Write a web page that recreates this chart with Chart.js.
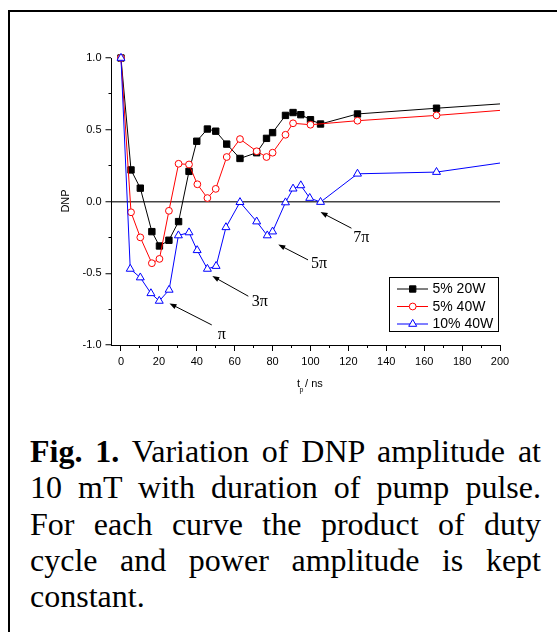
<!DOCTYPE html>
<html><head><meta charset="utf-8">
<script src="https://cdn.jsdelivr.net/npm/chart.js@4"></script>
<style>
html,body{margin:0;padding:0;background:#fff;width:557px;height:632px;overflow:hidden}
#frame{position:absolute;left:8px;top:10px;width:700px;height:800px;border-left:2px solid #000;border-top:2px solid #000;}
#wrap{position:absolute;left:0;top:0;width:557px;height:400px}
#cap{position:absolute;left:30px;top:433px;width:511px;font-family:"Liberation Serif","Times New Roman",serif;font-size:32px;line-height:36.3px;text-align:justify;color:#000}
</style></head><body>
<div id="frame"></div>
<div id="wrap"><canvas id="c" width="557" height="400"></canvas></div>
<div id="cap"><b>Fig. 1.</b> Variation of DNP amplitude at 10 mT with duration of pump pulse. For each curve the product of duty cycle and power amplitude is kept constant.</div>
<script>
// ---- data ----
const seriesLabels = ['5% 20W', '5% 40W', '10% 40W'];
const tpA  = [0,5.3,10.2,16.3,20.3,25.3,30.4,35.9,40,45.6,50,55.8,62.8,71.6,76.8,80,86.8,90.8,94.9,100,105.3,124.8,166.5,200];
const dnpA = [1.0,0.22,0.093,-0.21,-0.31,-0.27,-0.14,0.21,0.42,0.505,0.49,0.40,0.30,0.34,0.44,0.48,0.60,0.62,0.605,0.57,0.54,0.61,0.65,0.68];
const tpB  = [0,5.3,10.2,16.3,20.3,25.3,30.4,35.9,40.3,45.6,50,55.8,62.8,71.6,76.8,80,86.8,90.8,100,124.8,166.5,200];
const dnpB = [1.0,-0.075,-0.25,-0.43,-0.40,-0.065,0.263,0.258,0.12,0.024,0.088,0.31,0.435,0.35,0.31,0.34,0.465,0.545,0.535,0.563,0.60,0.635];
const tpC  = [0,4.9,10.2,15.8,20.2,25.4,30.3,35.9,40.2,45.6,50.2,55.4,62.8,71.6,77.2,80,86.8,90.8,94.9,99.6,105.3,124.8,166.5,200];
const dnpC = [1.0,-0.47,-0.53,-0.64,-0.693,-0.616,-0.237,-0.216,-0.34,-0.47,-0.45,-0.18,-0.005,-0.14,-0.237,-0.21,-0.007,0.089,0.112,0.024,-0.004,0.193,0.205,0.268];
const xMajorTicks = [0,20,40,60,80,100,120,140,160,180,200];
const xMinorTicks = [10,30,50,70,90,110,130,150,170,190];
const yMajorTicks = [-1,-0.5,0,0.5,1];
const yMinorTicks = [-0.75,-0.25,0.25,0.75];
// annotations: label text, label position, arrow tail and tip (data units)
const noteText  = ['π','3π','5π','7π'];
const noteX     = [53.2, 73.2, 104.5, 126.8];
const noteY     = [-0.93, -0.70, -0.435, -0.25];
const tailX     = [47.9, 67.2, 98.7, 121.6];
const tailY     = [-0.86, -0.66, -0.407, -0.186];
const tipX      = [25.6, 48.2, 83, 105.3];
const tipY      = [-0.71, -0.52, -0.30, -0.074];

const sans = 'Arial, "Liberation Sans", sans-serif';
const serif = '"Liberation Serif", "Times New Roman", serif';

function pts(xs, ys){ return xs.map((x,i)=>({x:x, y:ys[i]})); }
function radii(xs, r){ return xs.map((x,i)=> i===xs.length-1 ? 0 : r); }

const datasets = [
  {label:seriesLabels[0], data:pts(tpA,dnpA), borderColor:'#000', backgroundColor:'#000',
   pointStyle:'rect', pointRadius:radii(tpA,4.5), pointBorderColor:'#000', pointBackgroundColor:'#000', order:3},
  {label:seriesLabels[1], data:pts(tpB,dnpB), borderColor:'#ff0000', backgroundColor:'#fff',
   pointStyle:'circle', pointRadius:radii(tpB,3.4), pointBorderColor:'#ff0000', pointBackgroundColor:'#fff', order:2},
  {label:seriesLabels[2], data:pts(tpC,dnpC), borderColor:'#0000ff', backgroundColor:'#fff',
   pointStyle:'triangle', pointRadius:radii(tpC,4.6), pointBorderColor:'#0000ff', pointBackgroundColor:'#fff', order:1}
];
datasets.forEach(d=>{ d.borderWidth=1; d.pointBorderWidth=1; d.tension=0; d.fill=false; d.clip=false; });

const extras = {
  id:'extras',
  afterDatasetsDraw(chart){
    const ctx = chart.ctx, xs = chart.scales.x, ys = chart.scales.y;
    ctx.save();
    // arrows + labels
    for(let i=0;i<noteText.length;i++){
      const x1=xs.getPixelForValue(tailX[i]), y1=ys.getPixelForValue(tailY[i]);
      const x2=xs.getPixelForValue(tipX[i]),  y2=ys.getPixelForValue(tipY[i]);
      const a=Math.atan2(y2-y1,x2-x1), L=7, W=2.6;
      ctx.strokeStyle='#000'; ctx.fillStyle='#000'; ctx.lineWidth=1;
      ctx.beginPath(); ctx.moveTo(x1,y1); ctx.lineTo(x2-Math.cos(a)*L*0.8,y2-Math.sin(a)*L*0.8); ctx.stroke();
      ctx.beginPath(); ctx.moveTo(x2,y2);
      ctx.lineTo(x2-Math.cos(a)*L-Math.sin(a)*W, y2-Math.sin(a)*L+Math.cos(a)*W);
      ctx.lineTo(x2-Math.cos(a)*L+Math.sin(a)*W, y2-Math.sin(a)*L-Math.cos(a)*W);
      ctx.closePath(); ctx.fill();
      ctx.font='16px '+serif; ctx.textAlign='center'; ctx.textBaseline='middle';
      ctx.fillText(noteText[i], xs.getPixelForValue(noteX[i]), ys.getPixelForValue(noteY[i]));
    }
    // legend
    const bx=389.5, by=277.5, bw=109, bh=54;
    ctx.fillStyle='#fff'; ctx.fillRect(bx,by,bw,bh);
    ctx.strokeStyle='#000'; ctx.lineWidth=1; ctx.strokeRect(bx,by,bw,bh);
    const rowY=[289,306.5,324];
    chart.data.datasets.forEach((d,i)=>{
      const y=rowY[i];
      ctx.strokeStyle=d.borderColor; ctx.lineWidth=1;
      ctx.beginPath(); ctx.moveTo(397,y); ctx.lineTo(428,y); ctx.stroke();
      ctx.fillStyle=d.pointBackgroundColor; ctx.strokeStyle=d.pointBorderColor; ctx.lineWidth=1;
      Chart.helpers.drawPoint(ctx,{pointStyle:d.pointStyle, rotation:0, borderWidth:1, radius:d.pointRadius[0]}, 412.7, y);
      ctx.fillStyle='#000'; ctx.font='14px '+sans; ctx.textAlign='left'; ctx.textBaseline='middle';
      ctx.fillText(d.label, 432.5, y+0.5);
    });
    // axis titles
    ctx.fillStyle='#000';
    ctx.save(); ctx.translate(66,201); ctx.rotate(-Math.PI/2);
    ctx.font='11px '+sans; ctx.textAlign='center'; ctx.textBaseline='middle';
    ctx.fillText('DNP',0,0); ctx.restore();
    ctx.font='11px '+sans; ctx.textAlign='left'; ctx.textBaseline='alphabetic';
    ctx.fillText('t',297,387);
    ctx.font='7px '+sans; ctx.fillText('p',299.5,392);
    ctx.font='11px '+sans; ctx.fillText(' / ns',302,387);
    ctx.restore();
  }
};

const tickFont = {family:sans, size:11};
new Chart(document.getElementById('c'), {
  type:'line',
  data:{datasets:datasets},
  options:{
    responsive:false, animation:false, devicePixelRatio:1,
    layout:{padding:{left:0,right:57,top:58,bottom:0}},
    plugins:{legend:{display:false}, tooltip:{enabled:false}},
    scales:{
      x:{type:'linear', position:'bottom', weight:1, min:-5, max:200,
         afterBuildTicks:s=>{ s.ticks = xMajorTicks.map(v=>({value:v})); },
         afterFit:s=>{ s.height=55; },
         ticks:{font:tickFont, color:'#000', padding:4, maxRotation:0, autoSkip:false, callback:v=>String(v)},
         grid:{drawOnChartArea:false, tickLength:6, tickColor:'#000', tickWidth:1},
         border:{display:true, color:'#000', width:1}},
      xm:{type:'linear', position:'bottom', weight:0, min:-5, max:200,
         afterBuildTicks:s=>{ s.ticks = xMinorTicks.map(v=>({value:v})); },
         afterFit:s=>{ s.height=0; },
         ticks:{display:false},
         grid:{drawOnChartArea:false, tickLength:3, tickColor:'#000', tickWidth:1},
         border:{display:false}},
      y:{type:'linear', position:'left', weight:1, min:-1, max:1,
         afterBuildTicks:s=>{ s.ticks = yMajorTicks.map(v=>({value:v})); },
         afterFit:s=>{ s.width=111.5; },
         ticks:{font:tickFont, color:'#000', padding:4, callback:v=>Number(v).toFixed(1)},
         grid:{drawOnChartArea:true, tickLength:6, tickColor:'#000', tickWidth:1,
               color:c=> (c.tick && c.tick.value===0) ? '#444' : 'rgba(0,0,0,0)', lineWidth:1.5},
         border:{display:true, color:'#000', width:1}},
      ym:{type:'linear', position:'left', weight:0, min:-1, max:1,
         afterBuildTicks:s=>{ s.ticks = yMinorTicks.map(v=>({value:v})); },
         afterFit:s=>{ s.width=0; },
         ticks:{display:false},
         grid:{drawOnChartArea:false, tickLength:3, tickColor:'#000', tickWidth:1},
         border:{display:false}}
    }
  },
  plugins:[extras]
});
</script>
</body></html>
